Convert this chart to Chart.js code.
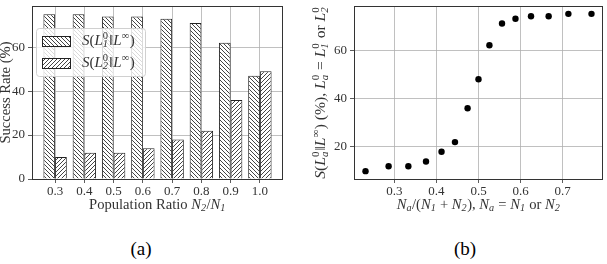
<!DOCTYPE html>
<html>
<head>
<meta charset="utf-8">
<script src="https://cdn.jsdelivr.net/npm/chart.js@4"></script>
<style>
  body { margin: 0; background: #fff; }
  #page { position: relative; width: 607px; height: 264px; overflow: hidden; }
  .box { position: absolute; top: 0; height: 220px; }
  .cap { position: absolute; top: 238px; font: 19px 'Liberation Serif', serif; color: #000; transform: translateX(-50%); }
</style>
</head>
<body>
<div id="page">
  <div class="box" style="left:0;width:300px"><canvas id="barChart"></canvas></div>
  <div class="box" style="left:300px;width:307px"><canvas id="dotChart"></canvas></div>
  <div class="cap" style="left:141px">(a)</div>
  <div class="cap" style="left:465px">(b)</div>
</div>
<script>
// Datos (a): tasa de éxito por ratio de población
const ratios = ['0.3', '0.4', '0.5', '0.6', '0.7', '0.8', '0.9', '1.0'];
const rateL1 = [75, 75, 74, 74, 73, 71, 62, 47];
const rateL2 = [10, 12, 12, 14, 18, 22, 36, 49];
const ticksA = [0, 20, 40, 60];

// Datos (b): tasa de éxito frente a Na/(N1+N2)
const fracX = [0.231, 0.286, 0.333, 0.375, 0.412, 0.444, 0.474, 0.5, 0.526, 0.556, 0.588, 0.625, 0.667, 0.714, 0.769];
const fracY = [10, 12, 12, 14, 18, 22, 36, 48, 62, 71, 73, 74, 74, 75, 75];
const ticksBx = ['0.3', '0.4', '0.5', '0.6', '0.7'];
const ticksBy = [20, 40, 60];

const SERIF = "'Liberation Serif', serif";
const INK = '#333';
const GRID = '#b0b0b0';
const LABEL_SIZE = 14.6;
Chart.defaults.font.family = SERIF;
Chart.defaults.color = INK;

// patrón de rayado
function makeHatch(dir) {
    const s = 4;
    const c = document.createElement('canvas');
    c.width = s; c.height = s;
    const g = c.getContext('2d');
    g.fillStyle = '#fff';
    g.fillRect(0, 0, s, s);
    g.strokeStyle = '#444';
    g.lineWidth = 1;
    g.beginPath();
    for (let k = -1; k <= 1; k++) {
        if (dir === '\\') { g.moveTo(k * s, 0); g.lineTo(k * s + s, s); }
        else { g.moveTo(k * s, s); g.lineTo(k * s + s, 0); }
    }
    g.stroke();
    return g.createPattern(c, 'repeat');
}

// texto con sub/superíndices
function drawRich(ctx, runs, x, y, size, align) {
    const small = size * 0.7;
    const font = (k, sz) => (k === 'i' ? 'italic ' : '') + sz + 'px ' + SERIF;
    const pieces = [];
    let w = 0;
    runs.forEach(([t, k]) => {
        if (k === 'ss') {
            const [sup, sub] = t.split('|');
            ctx.font = font('r', small);
            const w1 = ctx.measureText(sup).width;
            ctx.font = font('i', small);
            const w2 = ctx.measureText(sub).width;
            pieces.push({ t: sup, f: font('r', small), dx: w, dy: -size * 0.32 });
            pieces.push({ t: sub, f: font('i', small), dx: w, dy: size * 0.24 });
            w += Math.max(w1, w2) + 1;
        } else if (k === 'sub' || k === 'sup') {
            const f = font(k === 'sub' ? 'i' : 'r', small);
            ctx.font = f;
            pieces.push({ t: t, f: f, dx: w, dy: k === 'sub' ? size * 0.24 : -size * 0.32 });
            w += ctx.measureText(t).width + 0.5;
        } else {
            const f = font(k, size);
            ctx.font = f;
            pieces.push({ t: t, f: f, dx: w, dy: 0 });
            w += ctx.measureText(t).width;
        }
    });
    const x0 = align === 'center' ? x - w / 2 : x;
    ctx.textAlign = 'left';
    ctx.textBaseline = 'middle';
    pieces.forEach(p => {
        ctx.font = p.f;
        ctx.fillText(p.t, x0 + p.dx, y + p.dy);
    });
}

const hatchBack = makeHatch('\\');
const hatchFwd = makeHatch('/');

const labelL1 = [['S', 'i'], ['(', 'r'], ['L', 'i'], ['0|1', 'ss'], ['‖', 'r'], ['L', 'i'], ['∞', 'sup'], [')', 'r']];
const labelL2 = [['S', 'i'], ['(', 'r'], ['L', 'i'], ['0|2', 'ss'], ['‖', 'r'], ['L', 'i'], ['∞', 'sup'], [')', 'r']];

// marco y títulos
function framePlugin(xTitle, yTitle, yTitleX, ySize, extra) {
    return {
        id: 'frame',
        afterDraw(chart) {
            const ctx = chart.ctx;
            const a = chart.chartArea;
            ctx.save();
            ctx.strokeStyle = INK;
            ctx.lineWidth = 1;
            ctx.strokeRect(Math.round(a.left) + 0.5, Math.round(a.top) + 0.5,
                Math.round(a.right - a.left) - 1, Math.round(a.bottom - a.top));
            ctx.fillStyle = INK;
            drawRich(ctx, xTitle, (a.left + a.right) / 2, 205, LABEL_SIZE, 'center');
            ctx.translate(yTitleX, (a.top + a.bottom) / 2);
            ctx.rotate(-Math.PI / 2);
            drawRich(ctx, yTitle, 0, 0, ySize, 'center');
            ctx.restore();
            if (extra) extra(chart);
        }
    };
}

function drawLegend(chart) {
    const ctx = chart.ctx;
    ctx.save();
    ctx.beginPath();
    ctx.roundRect(36.5, 28.5, 109, 48, 3);
    ctx.fillStyle = 'rgba(255,255,255,0.8)';
    ctx.fill();
    ctx.strokeStyle = '#d0d0d0';
    ctx.lineWidth = 1;
    ctx.stroke();
    [[hatchBack, labelL1, 36], [hatchFwd, labelL2, 58]].forEach(([pat, lab, top]) => {
        ctx.fillStyle = pat;
        ctx.fillRect(42, top, 29, 10);
        ctx.strokeStyle = '#222';
        ctx.strokeRect(42.5, top + 0.5, 28, 10);
        ctx.fillStyle = INK;
        drawRich(ctx, lab, 82, top + 5, 15, 'left');
    });
    ctx.restore();
}

const tickFont = { family: SERIF, size: 13 };
const noPadX = s => { s.height = 41; s.paddingLeft = 0; s.paddingRight = 0; };

// gráfico (a)
new Chart(document.getElementById('barChart'), {
    type: 'bar',
    data: {
        datasets: [
            {
                label: 'L1',
                data: rateL1.map((v, i) => ({ x: i, y: v })),
                backgroundColor: hatchBack,
                borderColor: '#222',
                borderWidth: 1,
                categoryPercentage: 0.8,
                barPercentage: 1
            },
            {
                label: 'L2',
                data: rateL2.map((v, i) => ({ x: i, y: v })),
                backgroundColor: hatchFwd,
                borderColor: '#222',
                borderWidth: 1,
                categoryPercentage: 0.8,
                barPercentage: 1
            }
        ]
    },
    options: {
        responsive: true,
        maintainAspectRatio: false,
        animation: false,
        layout: { padding: { top: 6, right: 17, left: 0, bottom: 0 } },
        plugins: { legend: { display: false }, tooltip: { enabled: false } },
        scales: {
            x: {
                type: 'linear',
                min: -0.79,
                max: 7.79,
                offset: false,
                z: 1,
                border: { display: false },
                grid: { offset: false, color: GRID, lineWidth: 0.8, tickLength: 4, tickColor: INK },
                ticks: { font: tickFont, color: INK, padding: 1, maxRotation: 0, callback: (v, i) => ratios[i] },
                afterBuildTicks: s => { s.ticks = ratios.map((_, i) => ({ value: i })); },
                afterFit: noPadX
            },
            y: {
                min: 0,
                max: 78.75,
                z: 1,
                border: { display: false },
                grid: { color: GRID, lineWidth: 0.8, tickLength: 4, tickColor: INK },
                ticks: { font: tickFont, color: INK, padding: 3 },
                afterBuildTicks: s => { s.ticks = ticksA.map(v => ({ value: v })); },
                afterFit: s => { s.width = 32; s.paddingTop = 0; s.paddingBottom = 0; }
            }
        }
    },
    plugins: [framePlugin(
        [['Population Ratio ', 'r'], ['N', 'i'], ['2', 'sub'], ['/', 'r'], ['N', 'i'], ['1', 'sub']],
        [['Success Rate (%)', 'r']], 6, LABEL_SIZE, drawLegend)]
});

// gráfico (b)
new Chart(document.getElementById('dotChart'), {
    type: 'scatter',
    data: {
        datasets: [{
            data: fracX.map((x, i) => ({ x: x, y: fracY[i] })),
            backgroundColor: '#000',
            borderColor: '#000',
            pointRadius: 3.2,
            pointBorderWidth: 0
        }]
    },
    options: {
        responsive: true,
        maintainAspectRatio: false,
        animation: false,
        layout: { padding: { top: 6, right: 1, left: 0, bottom: 0 } },
        plugins: { legend: { display: false }, tooltip: { enabled: false } },
        scales: {
            x: {
                type: 'linear',
                min: 0.2036,
                max: 0.7964,
                border: { display: false },
                grid: { color: GRID, lineWidth: 0.8, tickLength: 4, tickColor: INK },
                ticks: { font: tickFont, color: INK, padding: 1, maxRotation: 0, callback: (v, i) => ticksBx[i] },
                afterBuildTicks: s => { s.ticks = ticksBx.map(t => ({ value: parseFloat(t) })); },
                afterFit: noPadX
            },
            y: {
                min: 6.75,
                max: 78.25,
                border: { display: false },
                grid: { color: GRID, lineWidth: 0.8, tickLength: 4, tickColor: INK },
                ticks: { font: tickFont, color: INK, padding: 3 },
                afterBuildTicks: s => { s.ticks = ticksBy.map(v => ({ value: v })); },
                afterFit: s => { s.width = 54; s.paddingTop = 0; s.paddingBottom = 0; }
            }
        }
    },
    plugins: [framePlugin(
        [['N', 'i'], ['a', 'sub'], ['/(', 'r'], ['N', 'i'], ['1', 'sub'], [' + ', 'r'], ['N', 'i'], ['2', 'sub'],
         ['), ', 'r'], ['N', 'i'], ['a', 'sub'], [' = ', 'r'], ['N', 'i'], ['1', 'sub'], [' or ', 'r'], ['N', 'i'], ['2', 'sub']],
        [['S', 'i'], ['(', 'r'], ['L', 'i'], ['0|a', 'ss'], ['‖', 'r'], ['L', 'i'], ['∞', 'sup'], [') (%), ', 'r'],
         ['L', 'i'], ['0|a', 'ss'], [' = ', 'r'], ['L', 'i'], ['0|1', 'ss'], [' or ', 'r'], ['L', 'i'], ['0|2', 'ss']],
        21, 15.6)]
});
</script>
</body>
</html>
